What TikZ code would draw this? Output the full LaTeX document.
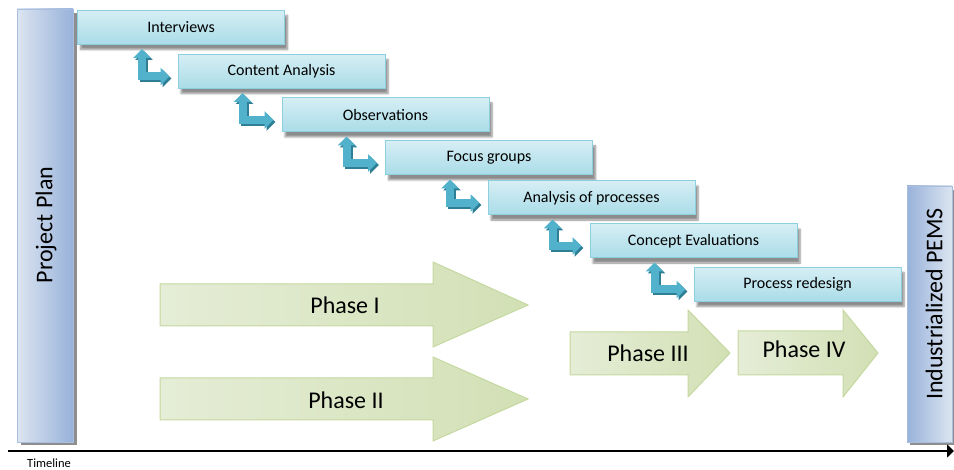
\documentclass[tikz,border=0pt]{standalone}
\usepackage{fontspec}
\setmainfont{Carlito}
\usetikzlibrary{arrows.meta,calc,shadows.blur}

% palette
\definecolor{barlight}{HTML}{DCE5F1}
\definecolor{bardark}{HTML}{98B2DA}
\definecolor{baredge}{HTML}{A9BEDF}
\definecolor{barshade}{HTML}{8E8E8E}
\definecolor{tasktop}{HTML}{D6EEF4}
\definecolor{taskbot}{HTML}{A9DCE8}
\definecolor{taskedge}{HTML}{8CCFDE}
\definecolor{elbowcol}{HTML}{52B2CB}
\definecolor{elbowshade}{HTML}{2E7F96}
\definecolor{phaselight}{HTML}{E5EDD6}
\definecolor{phasedark}{HTML}{D2E0B5}
\definecolor{phaseedge}{HTML}{C5D8A0}

\begin{document}
\begin{tikzpicture}[x=1pt,y=-1pt,
  bar/.style={draw=baredge, line width=0.8pt, left color=barlight, right color=bardark, inner sep=0pt},
  barflip/.style={bar, left color=bardark, right color=barlight},
  barlabel/.style={rotate=90, font=\fontsize{24}{26}\selectfont, inner sep=0pt},
  task/.style={draw=taskedge, line width=1pt, top color=tasktop, bottom color=taskbot,
    minimum width=207pt, minimum height=34pt, inner sep=0pt,
    font=\fontsize{16}{18}\selectfont,
    blur shadow={shadow xshift=3pt, shadow yshift=-5pt, shadow blur steps=6, shadow opacity=45}},
  elbowtip/.tip={Triangle[width=17pt,length=9pt]},
  elbow/.style={line width=8pt, color=elbowcol, elbowtip-elbowtip},
  elbowback/.style={elbow, color=elbowshade},
  phase/.style={draw=phaseedge, line width=1pt, left color=phaselight, right color=phasedark},
  phaselabel/.style={font=\fontsize{24}{26}\selectfont, inner sep=0pt},
]
\useasboundingbox (0,0) rectangle (954,470);

% side bars: start and end of the programme
\fill[barshade] (21,13) rectangle (77,445);
\node[bar, minimum width=56pt, minimum height=433pt] (plan) at (45,225.5) {};
\node[barlabel] (plantext) at (46,225) {Project Plan};

\fill[barshade] (910,190) rectangle (954,445);
\node[barflip, minimum width=45pt, minimum height=256pt] (pems) at (929.5,314) {};
\node[barlabel] (pemstext) at (934,304) {Industrialized PEMS};

% phase arrows
\path[phase] (160,284) -- (433,284) -- (433,262) -- (528,305) -- (433,347) -- (433,326) -- (160,326) -- cycle;
\node[phaselabel] (p1) at (345,305) {Phase I};
\path[phase] (160,378) -- (433,378) -- (433,357) -- (528,399) -- (433,441) -- (433,420) -- (160,420) -- cycle;
\node[phaselabel] (p2) at (346,400) {Phase II};
\path[phase] (570,332) -- (688,332) -- (688,310) -- (730,353) -- (688,397) -- (688,375) -- (570,375) -- cycle;
\node[phaselabel] (p3) at (648,353) {Phase III};
\path[phase] (738,331) -- (843,331) -- (843,310) -- (878,353) -- (843,397) -- (843,375) -- (738,375) -- cycle;
\node[phaselabel] (p4) at (804,349) {Phase IV};

% activity boxes
\node[task] (t1) at (181,27.5)  {Interviews};
\node[task] (t2) at (281.5,71.5) {Content Analysis};
\node[task] (t3) at (385.5,115) {Observations};
\node[task] (t4) at (489,158)   {Focus groups};
\node[task] (t5) at (591.5,198) {Analysis of processes};
\node[task] (t6) at (693.5,241) {Concept Evaluations};
\node[task] (t7) at (797.5,284.5) {Process redesign};

% elbow links between consecutive activities
\foreach \a/\b in {t1/t2, t2/t3, t3/t4, t4/t5, t5/t6, t6/t7} {
  \draw[elbowback] ($(\a.south west)+(67,6)$) |- ($(\b.west)+(-6,7)$);
  \draw[elbow] ($(\a.south west)+(65,4)$) |- ($(\b.west)+(-8,5)$);
}

% timeline axis
\coordinate (tstart) at (8,451);
\coordinate (tend) at (954,451);
\draw[line width=1.6pt, -{Triangle[width=13pt,length=7pt]}] (tstart) -- (tend);
\node[anchor=west, font=\fontsize{12.5}{14}\selectfont, inner sep=0pt] (tlabel) at (27,463) {Timeline};
\end{tikzpicture}
\end{document}
